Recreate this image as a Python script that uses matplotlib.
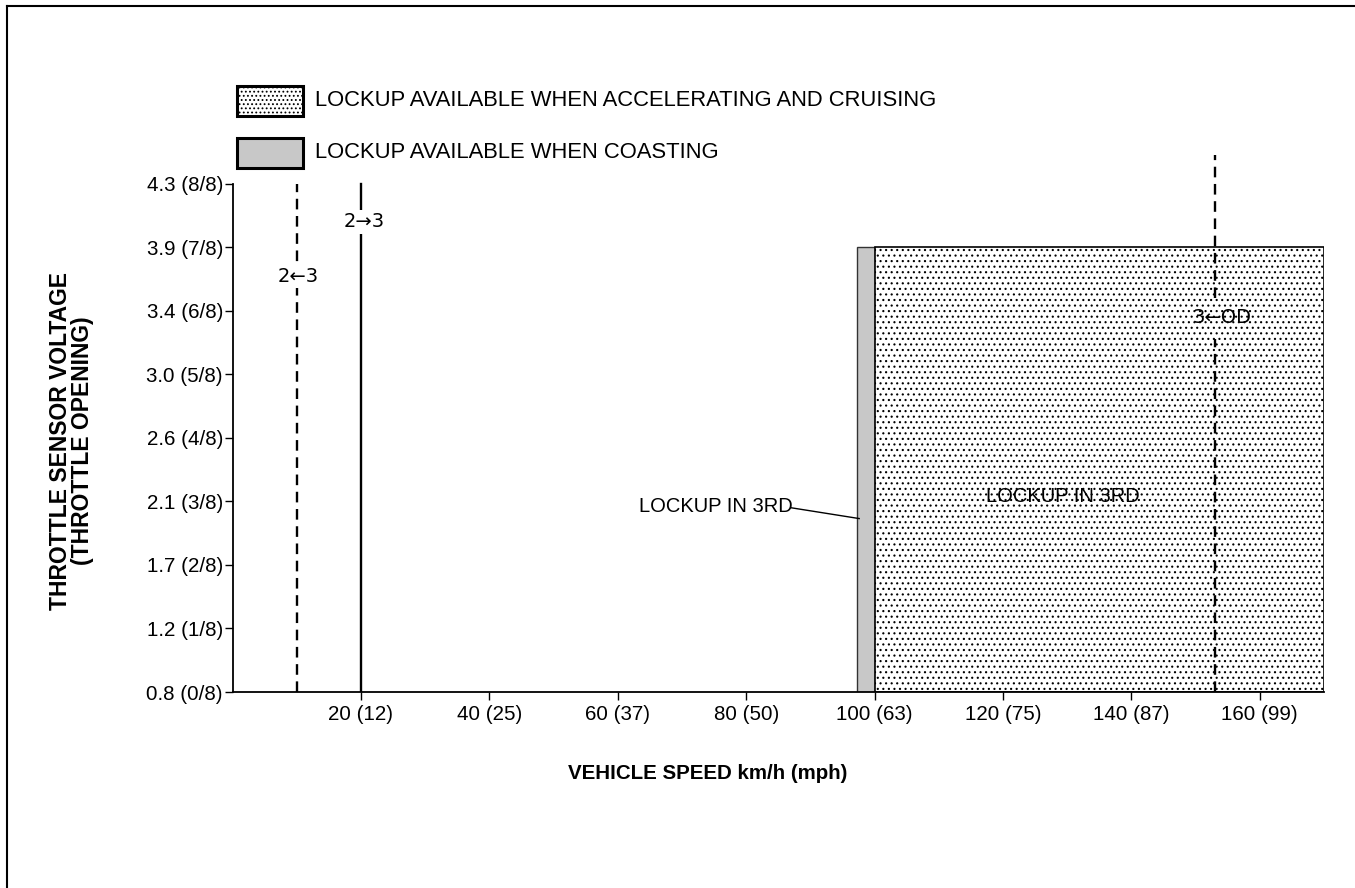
import matplotlib
matplotlib.use("Agg")
import matplotlib.pyplot as plt
from matplotlib.patches import Rectangle
from matplotlib.lines import Line2D

plt.rcParams['font.family'] = ['Liberation Sans', 'DejaVu Sans']
plt.rcParams['hatch.linewidth'] = 0.8

# ---- data ----
x_ticks = [20, 40, 60, 80, 100, 120, 140, 160]
x_tick_labels = ['20 (12)', '40 (25)', '60 (37)', '80 (50)', '100 (63)',
                 '120 (75)', '140 (87)', '160 (99)']
y_ticks = [0, 1, 2, 3, 4, 5, 6, 7, 8]
y_tick_labels = ['0.8 (0/8)', '1.2 (1/8)', '1.7 (2/8)', '2.1 (3/8)', '2.6 (4/8)',
                 '3.0 (5/8)', '3.4 (6/8)', '3.9 (7/8)', '4.3 (8/8)']

downshift_2_3 = 10      # 2<-3 (km/h)
upshift_2_3 = 20        # 2->3 (km/h)
downshift_3_od = 153    # 3<-OD (km/h)
coast_start, coast_end = 97.3, 100
cruise_start, cruise_end = 100, 170
lockup_throttle = 7     # eighths

legend_labels = ['LOCKUP AVAILABLE WHEN ACCELERATING AND CRUISING',
                 'LOCKUP AVAILABLE WHEN COASTING']

# ---- figure ----
W, H = 1355, 888
fig = plt.figure(figsize=(W / 100, H / 100), dpi=100)

def fx(px):
    return px / W

def fy(py):
    return 1 - py / H

ax_left, ax_right = 232.6, 1324.0
ax_bottom_px, ax_top_px = 692, 152
ax = fig.add_axes([fx(ax_left), fy(ax_bottom_px), fx(ax_right - ax_left),
                   (ax_bottom_px - ax_top_px) / H])
ax.set_xlim(0, 170)
ax.set_ylim(0, 8.5)
ax.patch.set_alpha(0)

for s in ['top', 'right']:
    ax.spines[s].set_visible(False)
ax.spines['left'].set_bounds(0, 8)
ax.spines['left'].set_linewidth(1.3)
ax.spines['bottom'].set_linewidth(1.3)

# lockup regions
ax.add_patch(Rectangle((coast_start, 0), coast_end - coast_start, lockup_throttle,
                       facecolor='#c8c8c8', edgecolor='#333333', linewidth=1.0,
                       zorder=2))
ax.add_patch(Rectangle((cruise_start, 0), cruise_end - cruise_start, lockup_throttle,
                       facecolor='white', edgecolor='black', hatch='...',
                       linewidth=1.2, zorder=2))

# shift lines
dash = (0, (4.5, 2.8))
ax.plot([downshift_2_3, downshift_2_3], [0, 8], color='black', lw=1.7,
        linestyle=dash, zorder=3)
ax.plot([upshift_2_3, upshift_2_3], [0, 8.0], color='black', lw=1.7, zorder=3)
ax.plot([downshift_3_od, downshift_3_od], [0, 5.55], color='black', lw=1.7,
        linestyle=dash, zorder=3)
ax.plot([downshift_3_od, downshift_3_od], [6.2, 8.45], color='black', lw=1.7,
        linestyle=dash, zorder=3)

tfs = 14.5
arrow_font = ['DejaVu Sans']
bbox_w = dict(facecolor='white', edgecolor='none', pad=1.5)
ax.text(upshift_2_3 + 0.5, 7.4, '2\u21923', ha='center', va='center', fontsize=14,
        family=arrow_font, bbox=bbox_w, zorder=4)
ax.text(downshift_2_3 + 0.2, 6.54, '2\u21903', ha='center', va='center', fontsize=14,
        family=arrow_font, bbox=bbox_w, zorder=4)
ax.text(downshift_3_od + 1.1, 5.89, '3\u2190OD', ha='center', va='center', fontsize=14,
        family=arrow_font, zorder=4)
ax.text(129.3, 3.07, 'LOCKUP IN 3RD', ha='center', va='center', fontsize=tfs, zorder=4)
ax.text(75.3, 2.92, 'LOCKUP IN 3RD', ha='center', va='center', fontsize=tfs, zorder=4)
ax.plot([87.0, 97.6], [2.9, 2.73], color='black', lw=1.0, zorder=4)

# ticks
ax.set_xticks(x_ticks)
ax.set_xticklabels(x_tick_labels, fontsize=14.8)
ax.set_yticks(y_ticks)
ax.set_yticklabels(y_tick_labels, fontsize=14.8)
ax.tick_params(axis='x', direction='out', length=6, width=1.0, pad=3)
ax.tick_params(axis='y', direction='out', length=6, width=1.0, pad=1)

# axis labels
fig.text(fx(708), fy(773), 'VEHICLE SPEED km/h (mph)', ha='center', va='center',
         fontsize=14.8, fontweight='bold')
fig.text(fx(61), fy(441), 'THROTTLE SENSOR VOLTAGE', ha='center', va='center',
         fontsize=16.5, fontweight='bold', rotation=90)
fig.text(fx(82), fy(441), '(THROTTLE OPENING)', ha='center', va='center',
         fontsize=16.5, fontweight='bold', rotation=90)

# legend boxes
fig.add_artist(Rectangle((fx(237), fy(116)), fx(66), 30 / H, transform=fig.transFigure,
                         facecolor='white', edgecolor='black', hatch='....',
                         linewidth=2.2))
fig.add_artist(Rectangle((fx(237), fy(168)), fx(66), 30 / H, transform=fig.transFigure,
                         facecolor='#c8c8c8', edgecolor='black', linewidth=2.2))
fig.text(fx(315), fy(101), legend_labels[0], ha='left', va='center', fontsize=15.8)
fig.text(fx(315), fy(153), legend_labels[1], ha='left', va='center', fontsize=15.8)

# page border (top and left)
fig.add_artist(Line2D([fx(7), 1], [fy(6), fy(6)], transform=fig.transFigure,
                      color='black', lw=1.5))
fig.add_artist(Line2D([fx(7), fx(7)], [0, fy(6)], transform=fig.transFigure,
                      color='black', lw=1.5))

fig.savefig('out.png', dpi=100)
